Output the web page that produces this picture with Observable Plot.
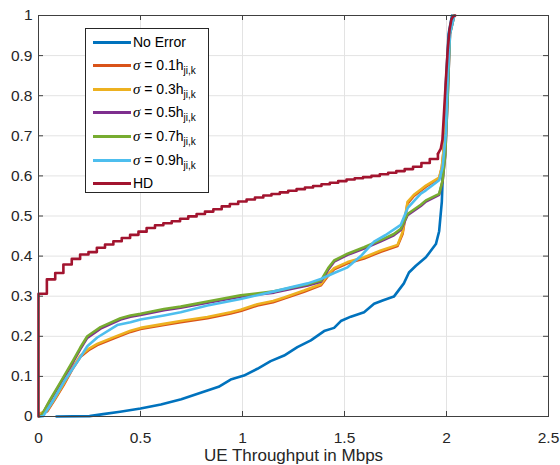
<!DOCTYPE html>
<html><head><meta charset="utf-8">
<script src="https://cdn.jsdelivr.net/npm/d3@7"></script>
<script src="https://cdn.jsdelivr.net/npm/@observablehq/plot@0.6"></script>
<style>
body{margin:0;background:#fff;}
#wrap{position:relative;width:560px;height:465px;font-family:"Liberation Sans",Arial,Helvetica,sans-serif;}
#legend{position:absolute;left:85px;top:28px;width:124px;height:165px;border:1px solid #262626;background:#fff;box-sizing:border-box;}
.row{position:absolute;left:0;height:16px;width:120px;}
.sw{position:absolute;left:7px;width:38px;height:2.5px;top:7px;}
.lt{position:absolute;left:47px;top:0;font-size:14px;line-height:16px;white-space:nowrap;color:#000;}
.lt i{font-family:"Liberation Serif","DejaVu Serif",serif;font-size:15px;}
.lt sub{font-size:10px;vertical-align:-4px;line-height:0;}
</style></head>
<body>
<div id="wrap"><div id="chart"></div><div id="legend"></div></div>
<script>
const xTicks = [0, 0.5, 1, 1.5, 2, 2.5];
const yTicks = [0, 0.1, 0.2, 0.3, 0.4, 0.5, 0.6, 0.7, 0.8, 0.9, 1];
const xTitle = "UE Throughput in Mbps";

const seriesNames = ["No Error", "σ = 0.1", "σ = 0.3", "σ = 0.5", "σ = 0.7", "σ = 0.9", "HD"];
const seriesColors = ["#0072BD", "#D95319", "#EDB120", "#7E2F8E", "#77AC30", "#4DBEEE", "#A2142F"];

const noError = [[0.088,0],[0.25,0.001],[0.317,0.006],[0.4,0.012],[0.5,0.02],[0.6,0.03],[0.7,0.043],[0.795,0.059],[0.883,0.074],[0.942,0.092],[1.007,0.102],[1.073,0.119],[1.138,0.138],[1.204,0.152],[1.269,0.173],[1.335,0.19],[1.4,0.213],[1.449,0.221],[1.482,0.238],[1.531,0.249],[1.596,0.26],[1.645,0.281],[1.69,0.29],[1.742,0.299],[1.791,0.332],[1.816,0.359],[1.85,0.376],[1.899,0.397],[1.948,0.43],[1.964,0.462],[1.977,0.535],[1.989,0.7],[1.997,0.83],[2.01,0.954],[2.027,1]];

const sigma01 = [[0.005,0.005],[0.043,0.013],[0.08,0.042],[0.124,0.079],[0.165,0.117],[0.206,0.149],[0.25,0.167],[0.288,0.178],[0.37,0.195],[0.451,0.211],[0.5,0.218],[0.615,0.228],[0.697,0.235],[0.828,0.245],[0.942,0.257],[0.991,0.263],[1.073,0.277],[1.15,0.285],[1.204,0.294],[1.302,0.311],[1.384,0.327],[1.42,0.351],[1.449,0.367],[1.515,0.382],[1.596,0.394],[1.678,0.411],[1.76,0.425],[1.785,0.456],[1.809,0.531],[1.84,0.55],[1.874,0.563],[1.899,0.573],[1.964,0.594],[1.977,0.62],[1.993,0.698],[2.003,0.83],[2.015,0.954],[2.035,1]];

const sigma03 = [[0.005,0.007],[0.043,0.016],[0.08,0.045],[0.124,0.082],[0.165,0.12],[0.206,0.152],[0.25,0.17],[0.288,0.181],[0.37,0.198],[0.451,0.214],[0.5,0.221],[0.615,0.231],[0.697,0.238],[0.828,0.248],[0.942,0.26],[0.991,0.266],[1.073,0.28],[1.15,0.288],[1.204,0.297],[1.302,0.314],[1.384,0.33],[1.42,0.355],[1.449,0.37],[1.515,0.385],[1.596,0.397],[1.678,0.414],[1.76,0.428],[1.785,0.46],[1.809,0.535],[1.84,0.553],[1.874,0.566],[1.899,0.576],[1.964,0.596],[1.977,0.622],[1.993,0.7],[2.003,0.83],[2.015,0.954],[2.035,1]];

const sigma05 = [[0.005,0],[0.015,0.002],[0.055,0.038],[0.113,0.087],[0.17,0.136],[0.205,0.168],[0.239,0.196],[0.304,0.219],[0.402,0.242],[0.451,0.249],[0.5,0.253],[0.615,0.265],[0.697,0.271],[0.828,0.284],[0.991,0.299],[1.155,0.309],[1.237,0.318],[1.32,0.327],[1.384,0.336],[1.42,0.366],[1.449,0.386],[1.515,0.403],[1.596,0.419],[1.678,0.437],[1.742,0.452],[1.776,0.465],[1.809,0.502],[1.874,0.525],[1.899,0.536],[1.964,0.553],[1.981,0.587],[1.994,0.652],[2.005,0.786],[2.017,0.954],[2.038,1]];

const sigma07 = [[0.005,0],[0.015,0.003],[0.055,0.04],[0.113,0.09],[0.17,0.14],[0.205,0.172],[0.239,0.2],[0.304,0.223],[0.402,0.245],[0.451,0.252],[0.5,0.256],[0.615,0.268],[0.697,0.274],[0.828,0.287],[0.991,0.302],[1.155,0.312],[1.237,0.321],[1.32,0.33],[1.384,0.339],[1.42,0.37],[1.449,0.389],[1.515,0.406],[1.596,0.422],[1.678,0.44],[1.742,0.455],[1.776,0.468],[1.809,0.505],[1.874,0.528],[1.899,0.539],[1.964,0.555],[1.981,0.589],[1.994,0.655],[2.005,0.788],[2.017,0.954],[2.038,1]];

const sigma09 = [[0.01,0],[0.023,0.001],[0.072,0.04],[0.129,0.09],[0.195,0.14],[0.239,0.175],[0.288,0.197],[0.386,0.228],[0.451,0.235],[0.5,0.242],[0.615,0.252],[0.697,0.26],[0.828,0.277],[0.991,0.293],[1.155,0.312],[1.237,0.322],[1.32,0.332],[1.384,0.343],[1.449,0.358],[1.515,0.372],[1.58,0.4],[1.645,0.436],[1.7,0.452],[1.776,0.478],[1.81,0.52],[1.874,0.556],[1.899,0.564],[1.964,0.589],[1.981,0.622],[1.997,0.706],[2.005,0.83],[2.017,0.954],[2.038,1]];

// HD: quantised staircase part, then the steep final rise
const hdStairs = [[0,0],[0,0.306],[0.041,0.342],[0.082,0.358],[0.122,0.379],[0.163,0.393],[0.204,0.404],[0.245,0.41],[0.286,0.421],[0.326,0.429],[0.367,0.437],[0.408,0.445],[0.449,0.453],[0.49,0.461],[0.53,0.47],[0.571,0.477],[0.612,0.482],[0.653,0.487],[0.694,0.493],[0.734,0.499],[0.775,0.505],[0.816,0.511],[0.857,0.517],[0.898,0.524],[0.938,0.53],[0.979,0.536],[1.02,0.541],[1.061,0.546],[1.102,0.551],[1.142,0.555],[1.183,0.559],[1.224,0.563],[1.265,0.567],[1.306,0.571],[1.346,0.575],[1.387,0.579],[1.428,0.583],[1.469,0.587],[1.51,0.591],[1.55,0.594],[1.591,0.597],[1.632,0.6],[1.673,0.604],[1.714,0.608],[1.754,0.612],[1.795,0.617],[1.836,0.623],[1.877,0.632],[1.918,0.642],[1.958,0.655]];
const hdRise = [[1.958,0.655],[1.972,0.668],[1.98,0.69],[1.988,0.76],[1.997,0.84],[2.006,0.915],[2.015,0.965],[2.024,0.99],[2.033,0.998],[2.043,1]];

const seriesData = [noError, sigma01, sigma03, sigma05, sigma07, sigma09];
const axisColor = "#404040";
const gridColor = "#e3e3e3";

const lineMarks = seriesData.map((data, i) => Plot.line(data, {
  x: d => d[0], y: d => d[1], stroke: seriesColors[i], strokeWidth: 2.6
}));

const chart = Plot.plot({
  width: 560, height: 465,
  marginLeft: 38, marginRight: 12, marginTop: 15, marginBottom: 49,
  style: {fontFamily: "Liberation Sans, Arial, Helvetica, sans-serif", fontSize: "15.5px", color: "#262626", background: "#fff"},
  x: {domain: [0, 2.5]},
  y: {domain: [0, 1]},
  marks: [
    Plot.ruleX(xTicks, {x: d => d, stroke: gridColor}),
    Plot.ruleY(yTicks, {y: d => d, stroke: gridColor}),
    ...lineMarks,
    Plot.line(hdStairs, {x: d => d[0], y: d => d[1], stroke: seriesColors[6], strokeWidth: 2.6, curve: "step-after"}),
    Plot.line(hdRise, {x: d => d[0], y: d => d[1], stroke: seriesColors[6], strokeWidth: 2.6}),
    Plot.frame({stroke: axisColor}),
    Plot.tickX(xTicks, {x: d => d, insetTop: 396, stroke: axisColor}),
    Plot.tickX(xTicks, {x: d => d, insetBottom: 396, stroke: axisColor}),
    Plot.tickY(yTicks, {y: d => d, insetLeft: 505, stroke: axisColor}),
    Plot.tickY(yTicks, {y: d => d, insetRight: 505, stroke: axisColor}),
    Plot.axisX({ticks: xTicks, tickSize: 0, tickPadding: 15, tickFormat: d => String(d), label: null}),
    Plot.axisY({ticks: yTicks, tickSize: 0, tickPadding: 6, tickFormat: d => String(d), label: null}),
    Plot.text([xTitle], {text: d => d, frameAnchor: "bottom", dy: 44, fontSize: 17, fill: "#262626"})
  ]
});
document.getElementById("chart").appendChild(chart);

const legend = document.getElementById("legend");
seriesNames.forEach((name, i) => {
  const row = document.createElement("div");
  row.className = "row";
  row.style.top = Math.round(4.5 + i * 23.6) + "px";
  const sw = document.createElement("div");
  sw.className = "sw";
  sw.style.background = seriesColors[i];
  const lt = document.createElement("div");
  lt.className = "lt";
  if (name.startsWith("σ")) {
    lt.innerHTML = '<i>σ</i>' + name.slice(1) + 'h<sub>ji,k</sub>';
  } else {
    lt.textContent = name;
  }
  row.appendChild(sw);
  row.appendChild(lt);
  legend.appendChild(row);
});
</script>
</body></html>
